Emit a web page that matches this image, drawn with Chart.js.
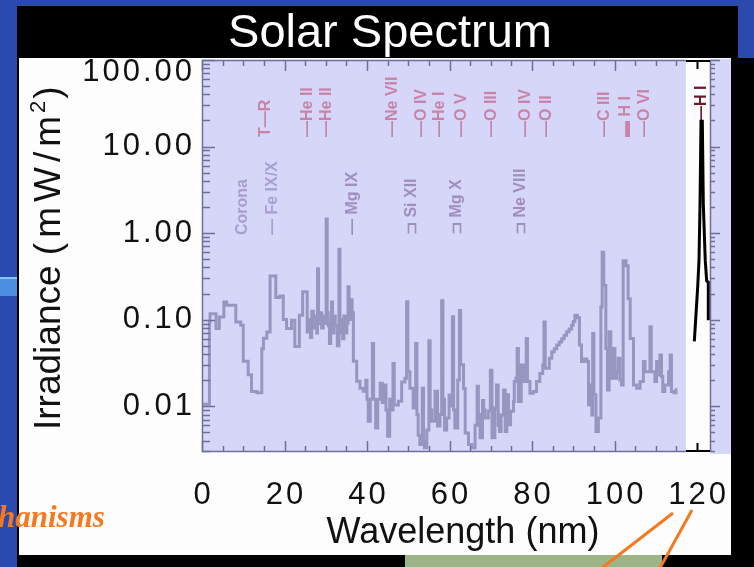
<!DOCTYPE html>
<html>
<head>
<meta charset="utf-8">
<title>Solar Spectrum</title>
<script src="https://cdn.jsdelivr.net/npm/chart.js@4.4.1/dist/chart.umd.min.js"></script>
<style>
  html, body { margin: 0; padding: 0; background: #2a4aae; overflow: hidden; }
  #wrap { position: relative; width: 754px; height: 567px; }
  canvas { display: block; }
</style>
</head>
<body>
<div id="wrap"><canvas id="spectrum" width="754" height="567"></canvas></div>
<script>
// EUV solar irradiance, stepped spectrum (nm, mW/m^2)
const wavelength = [
  0.3, 1.8, 1.95, 3.4, 4.2, 5.3, 6.0, 8.2, 9.4, 10.0, 11.2, 12.0, 13.3, 14.5, 14.9, 15.7,
  16.5, 17.9, 18.9, 19.7, 20.5, 21.7, 22.5, 23.6, 24.4, 25.5,
  26.0, 26.3, 26.6, 27.0, 27.4, 27.8, 28.0, 28.25, 28.6, 29.0, 29.4, 29.8, 30.1, 30.35,
  30.6, 30.9, 31.2, 31.4, 31.65, 32.0, 32.3, 32.8, 33.2, 33.45, 33.8, 34.1, 34.4, 34.7,
  35.1, 35.4, 35.65, 36.0, 36.4, 36.7,
  37.5, 38.3, 39.1, 39.7, 40.0, 40.3, 40.8, 41.3, 41.6, 42.1, 42.6, 43.2, 43.7, 44.2,
  44.6, 45.0, 45.5, 46.0, 46.3, 46.6, 47.6, 48.4, 49.2, 49.6, 49.9, 50.4, 51.2, 51.8,
  52.1, 52.4, 52.8, 53.4, 53.7, 53.9, 54.5, 55.0, 55.3, 55.7, 56.5, 57.1, 57.7, 58.1,
  58.4, 58.8, 59.3, 59.9, 60.4, 60.7, 61.0, 61.3, 62.0, 62.4, 62.7, 63.4, 63.8, 64.6,
  65.4, 66.2, 66.7, 67.0, 67.4, 68.0, 68.3, 68.6, 69.4, 69.9, 70.3, 71.0, 71.4, 71.8,
  72.1, 72.5, 73.1, 73.5, 73.9, 74.3, 74.8, 75.5, 75.7, 76.1, 76.4, 76.7, 77.4, 77.9,
  78.6, 78.9, 79.5, 80.3, 81.1, 81.9, 82.6, 82.9, 83.2, 84.2, 84.8, 85.4, 86.0, 86.6,
  87.2, 87.8, 88.4, 89.0, 89.6, 90.0, 90.4, 91.0, 91.5, 92.0, 92.6, 93.3, 93.7, 94.1,
  94.5, 94.7, 95.0, 95.5, 96.1, 96.7, 97.0, 97.4, 97.9, 98.3, 98.7, 99.1, 99.6, 100.1,
  100.5, 100.9, 101.3, 101.7, 102.1, 102.8, 103.3, 103.8, 104.6, 105.4, 106.2, 107.0, 107.4, 108.2,
  108.6, 108.9, 109.8, 110.2, 110.6, 111.0, 111.4, 111.7, 112.2, 113.1, 113.5, 113.8, 114.4, 114.9
];
const irradiance = [
  0.0105, 0.094, 0.117, 0.079, 0.107, 0.16, 0.146, 0.094, 0.086, 0.033, 0.023, 0.0148, 0.0143, 0.046, 0.061, 0.072,
  0.32, 0.18, 0.187, 0.10, 0.079, 0.098, 0.049, 0.112, 0.21, 0.072,
  0.10, 0.062, 0.125, 0.08, 0.11, 0.07, 0.386, 0.09, 0.12, 0.08, 0.11, 0.09, 1.45, 0.12,
  0.085, 0.053, 0.09, 0.16, 0.07, 0.11, 0.085, 0.05, 0.65, 0.07, 0.10, 0.06, 0.11, 0.07,
  0.09, 0.24, 0.10, 0.17, 0.12, 0.033,
  0.0194, 0.0161, 0.0149, 0.0199, 0.012, 0.0067, 0.012, 0.053, 0.012, 0.0056, 0.012, 0.0184, 0.011, 0.0175,
  0.009, 0.0045, 0.012, 0.009, 0.031, 0.0103, 0.0114, 0.019, 0.021, 0.161, 0.025, 0.0161, 0.0095, 0.053,
  0.008, 0.0046, 0.0036, 0.0161, 0.004, 0.0033, 0.0053, 0.057, 0.009, 0.0067, 0.0149, 0.0059, 0.008, 0.165,
  0.012, 0.0053, 0.0073, 0.0134, 0.01, 0.108, 0.009, 0.0056, 0.02, 0.127, 0.03, 0.016, 0.0049, 0.0036,
  0.0033, 0.006, 0.017, 0.008, 0.0043, 0.0116, 0.009, 0.0073, 0.0088, 0.026, 0.0043, 0.0095, 0.0176, 0.006,
  0.0051, 0.0079, 0.0154, 0.0051, 0.0135, 0.0061, 0.0087, 0.0113, 0.0192, 0.021, 0.0464, 0.0113, 0.0299, 0.0192,
  0.0605, 0.0192, 0.0141, 0.0148, 0.0192, 0.0239, 0.0299, 0.094, 0.0274, 0.0357, 0.0425, 0.046, 0.0507, 0.055,
  0.06, 0.066, 0.0722, 0.078, 0.086, 0.095, 0.112, 0.105, 0.0507, 0.0327, 0.035, 0.0327, 0.0104, 0.0176,
  0.0079, 0.069, 0.0135, 0.0051, 0.0073, 0.14, 0.6, 0.248, 0.0464, 0.0154, 0.0722, 0.021, 0.0464, 0.021,
  0.025, 0.0357, 0.02, 0.0176, 0.48, 0.42, 0.174, 0.0605, 0.0176, 0.0161, 0.0192, 0.0327, 0.025, 0.025,
  0.0824, 0.025, 0.0192, 0.0327, 0.0229, 0.0389, 0.022, 0.0148, 0.0176, 0.025, 0.0389, 0.0148, 0.0143, 0.0161
];

// H I Lyman-alpha profile
const lyaWavelength = [119.35, 120.17, 120.48, 120.73, 120.97, 121.29, 121.53, 122.0, 122.35, 122.74, 122.74];
const lyaIrradiance = [0.056, 0.24, 0.48, 2.15, 19.6, 19.6, 2.15, 0.48, 0.28, 0.27, 0.098];

// axis ticks
const xTickValues = [0, 20, 40, 60, 80, 100, 120];
const xTickLabels = ['0', '20', '40', '60', '80', '100', '120'];
const yTickValues = [100, 10, 1, 0.1, 0.01];
const yTickLabels = ['100.00', '10.00', '1.00', '0.10', '0.01'];

// line identifications
const upperLabels = ['T\u2014R', '\u2014He II', '\u2014He II', '\u2014Ne VII', '\u2014O IV', '\u2014He I', '\u2014O V',
                     '\u2014O III', '\u2014O IV', '\u2014O II', '\u2014C III', '\u25AC H I', '\u2014O VI'];
const upperWavelengths = [15.3, 25.7, 30.3, 46.1, 53.3, 57.5, 63.0, 70.1, 78.5, 83.6, 97.7, 102.8, 107.4];
const lowerLabels = ['Corona', '\u2014 Fe IX/X', '\u2014 Mg IX', '\u2290 Si XII', '\u2290 Mg X', '\u2290 Ne VIII'];
const lowerWavelengths = [9.9, 17.0, 36.4, 50.9, 61.6, 77.3];
const lyaLabel = '\u2014H I';
const lyaLabelWavelength = 121.0;

// shaded band of the main spectrograph panel
const panelEndWavelength = 117.3;

const SANS = '"Liberation Sans", Arial, Helvetica, sans-serif';
const LAVENDER = '#d6d6f8';
const AXIS = '#6f6f9e';

function drawSpaced(ctx, text, x, y, spacing, align) {
  const chars = [...text];
  const widths = chars.map(c => ctx.measureText(c).width);
  const total = widths.reduce((a, b) => a + b, 0) + spacing * (chars.length - 1);
  let cx = align === 'right' ? x - total : align === 'center' ? x - total / 2 : x;
  ctx.textAlign = 'left';
  chars.forEach((c, i) => { ctx.fillText(c, cx, y); cx += widths[i] + spacing; });
  return total;
}

function logTickValues(min, max) {
  const major = [], minor = [];
  for (let e = -4; e <= 3; e++) {
    for (let m = 1; m <= 9; m++) {
      const v = m * Math.pow(10, e);
      if (v < min * 0.999 || v > max * 1.001) continue;
      (m === 1 ? major : minor).push(v);
    }
  }
  return { major, minor };
}

const slideDecor = {
  id: 'slideDecor',
  beforeDraw(chart) {
    const { ctx, chartArea: a, scales: { x, y } } = chart;
    ctx.save();
    // slide background and frame
    ctx.fillStyle = '#2a4aae';
    ctx.fillRect(0, 0, 754, 567);
    ctx.fillStyle = '#8cc2f6';
    ctx.fillRect(0, 277, 17, 2);
    ctx.fillStyle = '#4b8fe0';
    ctx.fillRect(0, 279, 17, 17);
    ctx.fillStyle = '#000';
    ctx.fillRect(17, 6, 721, 52);
    ctx.fillRect(17, 58, 737, 509);
    ctx.fillStyle = '#fdfdfd';
    ctx.fillRect(19, 58, 712, 497);

    // title
    ctx.fillStyle = '#ffffff';
    ctx.font = '47px ' + SANS;
    ctx.textAlign = 'center';
    ctx.textBaseline = 'alphabetic';
    ctx.fillText('Solar Spectrum', 390, 47);

    // shaded panels
    const xEnd = x.getPixelForValue(panelEndWavelength);
    ctx.fillStyle = LAVENDER;
    ctx.fillRect(a.left, a.top, xEnd - a.left, a.bottom - a.top);
    ctx.fillRect(a.right, a.top - 1, 21, a.bottom - a.top + 3);

    // line identifications, reading upward
    const drawVertical = (text, wl, yStart, color) => {
      ctx.save();
      ctx.translate(x.getPixelForValue(wl), yStart);
      ctx.rotate(-Math.PI / 2);
      ctx.fillStyle = color;
      ctx.textAlign = 'left';
      ctx.textBaseline = 'middle';
      ctx.fillText(text, 0, 0);
      ctx.restore();
    };
    ctx.font = 'bold 16px ' + SANS;
    upperLabels.forEach((t, i) => drawVertical(t, upperWavelengths[i], 137, '#c883a9'));
    lowerLabels.forEach((t, i) => drawVertical(t, lowerWavelengths[i], 235, i < 2 ? '#a99fd0' : '#9f8fbf'));
    drawVertical(lyaLabel, lyaLabelWavelength, 122, '#6b1a2a');
    ctx.restore();
  },
  afterDatasetsDraw(chart) {
    const { ctx, chartArea: a, scales: { x, y } } = chart;
    const xEnd = x.getPixelForValue(panelEndWavelength);
    ctx.save();
    // main panel frame
    ctx.strokeStyle = AXIS;
    ctx.lineWidth = 1.5;
    ctx.beginPath();
    ctx.moveTo(xEnd, a.top + 0.5); ctx.lineTo(a.left + 0.5, a.top + 0.5);
    ctx.lineTo(a.left + 0.5, a.bottom - 0.5); ctx.lineTo(xEnd, a.bottom - 0.5);
    ctx.stroke();

    // logarithmic ticks on the left axis and on the neighbouring strip
    const lt = logTickValues(y.min, y.max);
    ctx.lineWidth = 1.5;
    ctx.beginPath();
    lt.major.forEach(v => {
      const py = Math.round(y.getPixelForValue(v)) + 0.5;
      ctx.moveTo(a.left, py); ctx.lineTo(a.left + 13, py);
      ctx.moveTo(a.right, py); ctx.lineTo(a.right + 10, py);
    });
    lt.minor.forEach(v => {
      const py = Math.round(y.getPixelForValue(v)) + 0.5;
      ctx.moveTo(a.left, py); ctx.lineTo(a.left + 8, py);
      ctx.moveTo(a.right, py); ctx.lineTo(a.right + 5, py);
    });
    ctx.moveTo(a.right + 0.5, a.top); ctx.lineTo(a.right + 0.5, a.bottom);
    ctx.stroke();

    // wavelength ticks, top and bottom
    ctx.beginPath();
    for (let w = 0; w <= panelEndWavelength; w += 5) {
      const px = Math.round(x.getPixelForValue(w)) + 0.5;
      const len = w % 20 === 0 ? 11 : 6;
      ctx.moveTo(px, a.top); ctx.lineTo(px, a.top + len);
      ctx.moveTo(px, a.bottom); ctx.lineTo(px, a.bottom - len);
    }
    ctx.stroke();

    // Lyman-alpha panel frame
    ctx.strokeStyle = '#000';
    ctx.lineWidth = 2;
    ctx.beginPath();
    ctx.moveTo(xEnd, a.top + 1); ctx.lineTo(a.right, a.top + 1);
    ctx.moveTo(xEnd, a.bottom - 1); ctx.lineTo(a.right, a.bottom - 1);
    const p120 = Math.round(x.getPixelForValue(120)) + 0.5;
    ctx.moveTo(p120, a.top); ctx.lineTo(p120, a.top + 9);
    ctx.moveTo(p120, a.bottom); ctx.lineTo(p120, a.bottom - 9);
    ctx.stroke();

    // tick labels
    ctx.fillStyle = '#111';
    ctx.font = '31px ' + SANS;
    ctx.textBaseline = 'middle';
    yTickValues.forEach((v, i) => {
      const py = Math.max(y.getPixelForValue(v), a.top + 12);
      drawSpaced(ctx, yTickLabels[i], 192, py, 3, 'right');
    });
    ctx.textBaseline = 'alphabetic';
    xTickValues.forEach((v, i) => {
      drawSpaced(ctx, xTickLabels[i], x.getPixelForValue(v), 504, 3, 'center');
    });

    // axis titles
    ctx.font = '36px ' + SANS;
    ctx.textAlign = 'center';
    ctx.fillText('Wavelength (nm)', 463, 543);

    ctx.save();
    ctx.translate(60, 430);
    ctx.rotate(-Math.PI / 2);
    ctx.textBaseline = 'alphabetic';
    ctx.textAlign = 'left';
    ctx.font = '37px ' + SANS;
    ctx.fillText('Irradiance', 0, 0);
    let u = ctx.measureText('Irradiance ').width;
    u += drawSpaced(ctx, '(mW/m', u, 0, 5, 'left') + 3;
    ctx.font = '22px ' + SANS;
    ctx.fillText('2', u, -15);
    u += ctx.measureText('2').width + 2;
    ctx.font = '37px ' + SANS;
    ctx.fillText(')', u, 0);
    ctx.restore();
    ctx.restore();
  },
  afterDraw(chart) {
    const { ctx } = chart;
    ctx.save();
    ctx.fillStyle = '#9db388';
    ctx.fillRect(405, 555, 257, 12);
    ctx.strokeStyle = '#f47920';
    ctx.lineWidth = 3;
    ctx.beginPath();
    ctx.moveTo(673, 513); ctx.lineTo(602, 568);
    ctx.moveTo(692, 510); ctx.lineTo(660, 568);
    ctx.stroke();
    ctx.fillStyle = '#f47920';
    ctx.font = 'bold italic 31px "Liberation Serif", "Times New Roman", serif';
    ctx.textAlign = 'left';
    ctx.textBaseline = 'alphabetic';
    ctx.fillText('hanisms', -2, 527);
    ctx.restore();
  }
};

new Chart(document.getElementById('spectrum').getContext('2d'), {
  type: 'line',
  data: {
    datasets: [
      {
        label: 'Solar EUV irradiance',
        data: wavelength.map((w, i) => ({ x: w, y: irradiance[i] })),
        stepped: true,
        borderColor: '#9696c0',
        borderWidth: 3,
        borderJoinStyle: 'miter',
        pointRadius: 0,
        fill: false
      },
      {
        label: 'H I Lyman-alpha',
        data: lyaWavelength.map((w, i) => ({ x: w, y: lyaIrradiance[i] })),
        borderColor: '#000000',
        borderWidth: 3,
        tension: 0,
        pointRadius: 0,
        fill: false
      }
    ]
  },
  options: {
    responsive: false,
    animation: false,
    devicePixelRatio: 1,
    layout: { padding: { left: 202, right: 44, top: 60, bottom: 115 } },
    plugins: { legend: { display: false }, tooltip: { enabled: false } },
    scales: {
      x: { type: 'linear', min: 0, max: 123.15, display: false },
      y: { type: 'logarithmic', min: 0.00295, max: 100, display: false }
    }
  },
  plugins: [slideDecor]
});
</script>
</body>
</html>
